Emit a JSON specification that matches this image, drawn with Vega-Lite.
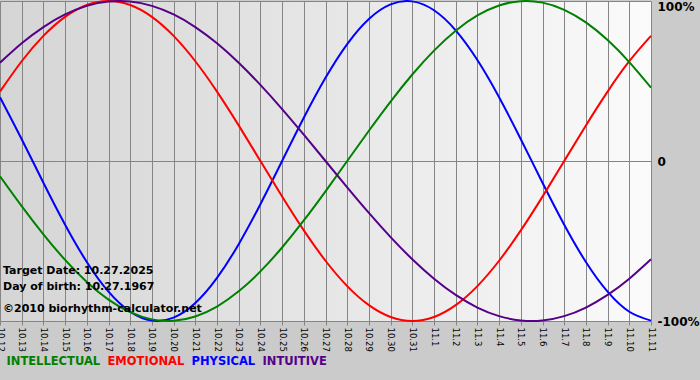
{
  "$schema": "https://vega.github.io/schema/vega-lite/v6.json",
  "width": 651,
  "height": 320,
  "autosize": {"type": "none"},
  "padding": {"left": 0, "top": 1, "right": 49, "bottom": 59},
  "background": "#cbcbcb",
  "config": {
    "view": {
      "stroke": null,
      "fill": {"gradient": "linear", "x1": 0, "y1": 0, "x2": 1, "y2": 0, "stops": [{"offset": 0, "color": "#d5d5d5"}, {"offset": 0.5, "color": "#e6e6e6"}, {"offset": 1, "color": "#fbfbfb"}]}
    }
  },
  "datasets": {
    "bio": [
      {"date": "10.12", "series": "PHYSICAL", "v": 0.3984},
      {"date": "10.13", "series": "PHYSICAL", "v": 0.1362},
      {"date": "10.14", "series": "PHYSICAL", "v": -0.1362},
      {"date": "10.15", "series": "PHYSICAL", "v": -0.3984},
      {"date": "10.16", "series": "PHYSICAL", "v": -0.6311},
      {"date": "10.17", "series": "PHYSICAL", "v": -0.8170},
      {"date": "10.18", "series": "PHYSICAL", "v": -0.9423},
      {"date": "10.19", "series": "PHYSICAL", "v": -0.9977},
      {"date": "10.20", "series": "PHYSICAL", "v": -0.9791},
      {"date": "10.21", "series": "PHYSICAL", "v": -0.8879},
      {"date": "10.22", "series": "PHYSICAL", "v": -0.7308},
      {"date": "10.23", "series": "PHYSICAL", "v": -0.5196},
      {"date": "10.24", "series": "PHYSICAL", "v": -0.2698},
      {"date": "10.25", "series": "PHYSICAL", "v": 0},
      {"date": "10.26", "series": "PHYSICAL", "v": 0.2698},
      {"date": "10.27", "series": "PHYSICAL", "v": 0.5196},
      {"date": "10.28", "series": "PHYSICAL", "v": 0.7308},
      {"date": "10.29", "series": "PHYSICAL", "v": 0.8879},
      {"date": "10.30", "series": "PHYSICAL", "v": 0.9791},
      {"date": "10.31", "series": "PHYSICAL", "v": 0.9977},
      {"date": "11.1", "series": "PHYSICAL", "v": 0.9423},
      {"date": "11.2", "series": "PHYSICAL", "v": 0.8170},
      {"date": "11.3", "series": "PHYSICAL", "v": 0.6311},
      {"date": "11.4", "series": "PHYSICAL", "v": 0.3984},
      {"date": "11.5", "series": "PHYSICAL", "v": 0.1362},
      {"date": "11.6", "series": "PHYSICAL", "v": -0.1362},
      {"date": "11.7", "series": "PHYSICAL", "v": -0.3984},
      {"date": "11.8", "series": "PHYSICAL", "v": -0.6311},
      {"date": "11.9", "series": "PHYSICAL", "v": -0.8170},
      {"date": "11.10", "series": "PHYSICAL", "v": -0.9423},
      {"date": "11.11", "series": "PHYSICAL", "v": -0.9977},

      {"date": "10.12", "series": "EMOTIONAL", "v": 0.4339},
      {"date": "10.13", "series": "EMOTIONAL", "v": 0.6235},
      {"date": "10.14", "series": "EMOTIONAL", "v": 0.7818},
      {"date": "10.15", "series": "EMOTIONAL", "v": 0.9010},
      {"date": "10.16", "series": "EMOTIONAL", "v": 0.9749},
      {"date": "10.17", "series": "EMOTIONAL", "v": 1.0},
      {"date": "10.18", "series": "EMOTIONAL", "v": 0.9749},
      {"date": "10.19", "series": "EMOTIONAL", "v": 0.9010},
      {"date": "10.20", "series": "EMOTIONAL", "v": 0.7818},
      {"date": "10.21", "series": "EMOTIONAL", "v": 0.6235},
      {"date": "10.22", "series": "EMOTIONAL", "v": 0.4339},
      {"date": "10.23", "series": "EMOTIONAL", "v": 0.2225},
      {"date": "10.24", "series": "EMOTIONAL", "v": 0},
      {"date": "10.25", "series": "EMOTIONAL", "v": -0.2225},
      {"date": "10.26", "series": "EMOTIONAL", "v": -0.4339},
      {"date": "10.27", "series": "EMOTIONAL", "v": -0.6235},
      {"date": "10.28", "series": "EMOTIONAL", "v": -0.7818},
      {"date": "10.29", "series": "EMOTIONAL", "v": -0.9010},
      {"date": "10.30", "series": "EMOTIONAL", "v": -0.9749},
      {"date": "10.31", "series": "EMOTIONAL", "v": -1.0},
      {"date": "11.1", "series": "EMOTIONAL", "v": -0.9749},
      {"date": "11.2", "series": "EMOTIONAL", "v": -0.9010},
      {"date": "11.3", "series": "EMOTIONAL", "v": -0.7818},
      {"date": "11.4", "series": "EMOTIONAL", "v": -0.6235},
      {"date": "11.5", "series": "EMOTIONAL", "v": -0.4339},
      {"date": "11.6", "series": "EMOTIONAL", "v": -0.2225},
      {"date": "11.7", "series": "EMOTIONAL", "v": 0},
      {"date": "11.8", "series": "EMOTIONAL", "v": 0.2225},
      {"date": "11.9", "series": "EMOTIONAL", "v": 0.4339},
      {"date": "11.10", "series": "EMOTIONAL", "v": 0.6235},
      {"date": "11.11", "series": "EMOTIONAL", "v": 0.7818},

      {"date": "10.12", "series": "INTELLECTUAL", "v": -0.0951},
      {"date": "10.13", "series": "INTELLECTUAL", "v": -0.2817},
      {"date": "10.14", "series": "INTELLECTUAL", "v": -0.4582},
      {"date": "10.15", "series": "INTELLECTUAL", "v": -0.6182},
      {"date": "10.16", "series": "INTELLECTUAL", "v": -0.7557},
      {"date": "10.17", "series": "INTELLECTUAL", "v": -0.8660},
      {"date": "10.18", "series": "INTELLECTUAL", "v": -0.9450},
      {"date": "10.19", "series": "INTELLECTUAL", "v": -0.9898},
      {"date": "10.20", "series": "INTELLECTUAL", "v": -0.9989},
      {"date": "10.21", "series": "INTELLECTUAL", "v": -0.9718},
      {"date": "10.22", "series": "INTELLECTUAL", "v": -0.9096},
      {"date": "10.23", "series": "INTELLECTUAL", "v": -0.8146},
      {"date": "10.24", "series": "INTELLECTUAL", "v": -0.6901},
      {"date": "10.25", "series": "INTELLECTUAL", "v": -0.5406},
      {"date": "10.26", "series": "INTELLECTUAL", "v": -0.3717},
      {"date": "10.27", "series": "INTELLECTUAL", "v": -0.1893},
      {"date": "10.28", "series": "INTELLECTUAL", "v": 0},
      {"date": "10.29", "series": "INTELLECTUAL", "v": 0.1893},
      {"date": "10.30", "series": "INTELLECTUAL", "v": 0.3717},
      {"date": "10.31", "series": "INTELLECTUAL", "v": 0.5406},
      {"date": "11.1", "series": "INTELLECTUAL", "v": 0.6901},
      {"date": "11.2", "series": "INTELLECTUAL", "v": 0.8146},
      {"date": "11.3", "series": "INTELLECTUAL", "v": 0.9096},
      {"date": "11.4", "series": "INTELLECTUAL", "v": 0.9718},
      {"date": "11.5", "series": "INTELLECTUAL", "v": 0.9989},
      {"date": "11.6", "series": "INTELLECTUAL", "v": 0.9898},
      {"date": "11.7", "series": "INTELLECTUAL", "v": 0.9450},
      {"date": "11.8", "series": "INTELLECTUAL", "v": 0.8660},
      {"date": "11.9", "series": "INTELLECTUAL", "v": 0.7557},
      {"date": "11.10", "series": "INTELLECTUAL", "v": 0.6182},
      {"date": "11.11", "series": "INTELLECTUAL", "v": 0.4582},

      {"date": "10.12", "series": "INTUITIVE", "v": 0.6142},
      {"date": "10.13", "series": "INTUITIVE", "v": 0.7357},
      {"date": "10.14", "series": "INTUITIVE", "v": 0.8372},
      {"date": "10.15", "series": "INTUITIVE", "v": 0.9158},
      {"date": "10.16", "series": "INTUITIVE", "v": 0.9694},
      {"date": "10.17", "series": "INTUITIVE", "v": 0.9966},
      {"date": "10.18", "series": "INTUITIVE", "v": 0.9966},
      {"date": "10.19", "series": "INTUITIVE", "v": 0.9694},
      {"date": "10.20", "series": "INTUITIVE", "v": 0.9158},
      {"date": "10.21", "series": "INTUITIVE", "v": 0.8372},
      {"date": "10.22", "series": "INTUITIVE", "v": 0.7357},
      {"date": "10.23", "series": "INTUITIVE", "v": 0.6142},
      {"date": "10.24", "series": "INTUITIVE", "v": 0.4759},
      {"date": "10.25", "series": "INTUITIVE", "v": 0.3247},
      {"date": "10.26", "series": "INTUITIVE", "v": 0.1646},
      {"date": "10.27", "series": "INTUITIVE", "v": 0},
      {"date": "10.28", "series": "INTUITIVE", "v": -0.1646},
      {"date": "10.29", "series": "INTUITIVE", "v": -0.3247},
      {"date": "10.30", "series": "INTUITIVE", "v": -0.4759},
      {"date": "10.31", "series": "INTUITIVE", "v": -0.6142},
      {"date": "11.1", "series": "INTUITIVE", "v": -0.7357},
      {"date": "11.2", "series": "INTUITIVE", "v": -0.8372},
      {"date": "11.3", "series": "INTUITIVE", "v": -0.9158},
      {"date": "11.4", "series": "INTUITIVE", "v": -0.9694},
      {"date": "11.5", "series": "INTUITIVE", "v": -0.9966},
      {"date": "11.6", "series": "INTUITIVE", "v": -0.9966},
      {"date": "11.7", "series": "INTUITIVE", "v": -0.9694},
      {"date": "11.8", "series": "INTUITIVE", "v": -0.9158},
      {"date": "11.9", "series": "INTUITIVE", "v": -0.8372},
      {"date": "11.10", "series": "INTUITIVE", "v": -0.7357},
      {"date": "11.11", "series": "INTUITIVE", "v": -0.6142}
    ],
    "notes": [
      {"t": "Target Date: 10.27.2025", "y": -0.69},
      {"t": "Day of birth: 10.27.1967", "y": -0.79},
      {"t": "©2010 biorhythm-calculator.net", "y": -0.925}
    ]
  },
  "layer": [
    {
      "mark": {"type": "rule", "color": "#800000", "strokeWidth": 2},
      "encoding": {"x": {"datum": "10.27", "type": "ordinal"}}
    },
    {
      "data": {"name": "bio"},
      "mark": {"type": "line", "strokeWidth": 2, "interpolate": "natural"},
      "encoding": {
        "x": {
          "field": "date", "type": "ordinal",
          "scale": {"type": "point", "padding": 0, "domain": ["10.12","10.13","10.14","10.15","10.16","10.17","10.18","10.19","10.20","10.21","10.22","10.23","10.24","10.25","10.26","10.27","10.28","10.29","10.30","10.31","11.1","11.2","11.3","11.4","11.5","11.6","11.7","11.8","11.9","11.10","11.11"]},
          "axis": {
            "title": null, "orient": "bottom", "labelAngle": 90, "labelAlign": "left", "labelBaseline": "middle",
            "labelFont": "DejaVu Sans", "labelFontSize": 8.5, "labelBound": false, "labelOverlap": false,
            "labelColor": "#000000", "grid": true, "gridColor": "#858585", "gridOpacity": 1, "gridWidth": 1,
            "tickColor": "#858585", "tickSize": 4, "domain": false, "labelPadding": 2
          }
        },
        "y": {
          "field": "v", "type": "quantitative",
          "scale": {"domain": [-1, 1], "nice": false, "zero": false},
          "axis": {
            "title": null, "orient": "right", "values": [-1, 0, 1], "grid": true, "gridColor": "#858585", "gridOpacity": 1,
            "ticks": false, "domain": false, "labelFont": "DejaVu Sans", "labelFontWeight": "bold", "labelFontSize": 12,
            "labelColor": "#000000", "labelPadding": 6, "labelAlign": "left",
            "labelBaseline": {"condition": {"test": "datum.value > 0", "value": "top"}, "value": "middle"},
            "labelExpr": "datum.value > 0 ? '100%' : (datum.value < 0 ? '-100%' : '0')"
          }
        },
        "color": {
          "field": "series", "type": "nominal",
          "scale": {"domain": ["INTELLECTUAL", "EMOTIONAL", "PHYSICAL", "INTUITIVE"], "range": ["#008000", "#ff0000", "#0000ff", "#550088"]},
          "legend": {
            "title": null, "orient": "none", "legendX": 6, "legendY": 355, "direction": "horizontal",
            "symbolSize": 0, "symbolStrokeWidth": 0, "symbolOpacity": 0, "labelOffset": -11, "columnPadding": 6,
            "labelFont": "DejaVu Sans", "labelFontWeight": "bold", "labelFontSize": 11.5,
            "encode": {"labels": {"update": {"fill": {"scale": "color", "field": "value"}}}}
          }
        }
      }
    },
    {
      "data": {"name": "notes"},
      "mark": {"type": "text", "align": "left", "baseline": "middle", "dx": 3, "font": "DejaVu Sans", "fontWeight": "bold", "fontSize": 11, "color": "#000000"},
      "encoding": {
        "x": {"datum": "10.12", "type": "ordinal"},
        "y": {"field": "y", "type": "quantitative"},
        "text": {"field": "t"}
      }
    }
  ]
}
